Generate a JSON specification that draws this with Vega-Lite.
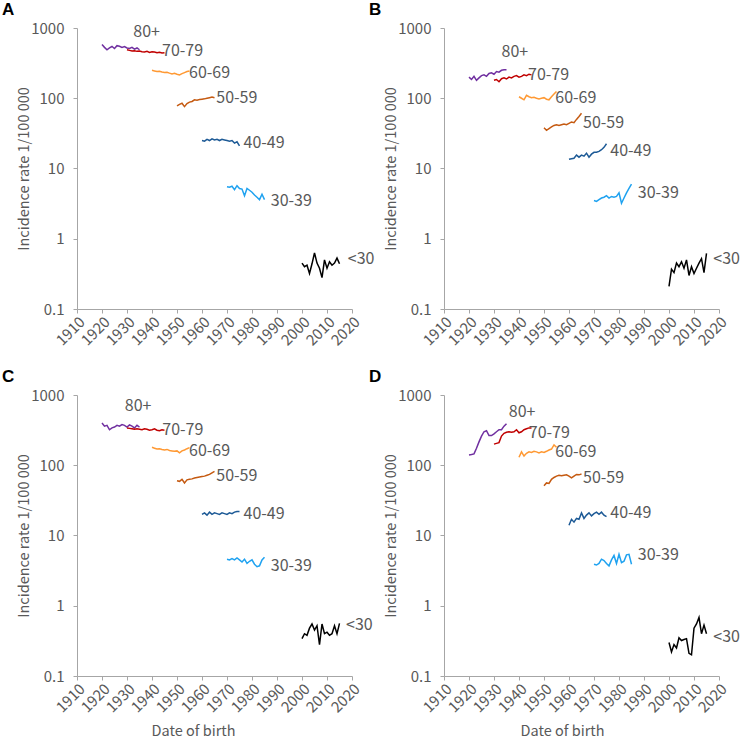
{
"$schema": "https://vega.github.io/schema/vega-lite/v6.json",
"autosize": {"type": "pad"},
"padding": {"left": 2, "top": 1, "right": 0, "bottom": 0},
"background": "white",
"config": {
  "view": {"stroke": null},
  "font": "Noto Sans CJK SC",
  "axis": {"grid": false, "domainColor": "#A6A6A6", "tickColor": "#A6A6A6", "labelColor": "#595959", "titleColor": "#595959", "labelFontSize": 15, "titleFontSize": 14.5, "titleFontWeight": "normal", "tickSize": 4, "labelFont": "Noto Sans CJK SC", "titleFont": "Noto Sans CJK SC"}
},
"columns": 2,
"bounds": "flush",
"spacing": {"row": 86, "column": 92},
"datasets": {
"lines": [
{"panel":"A","group":"80+","year":1920,"rate":580},{"panel":"A","group":"80+","year":1921,"rate":530},{"panel":"A","group":"80+","year":1922,"rate":490},{"panel":"A","group":"80+","year":1923,"rate":520},{"panel":"A","group":"80+","year":1924,"rate":545},{"panel":"A","group":"80+","year":1925,"rate":510},{"panel":"A","group":"80+","year":1926,"rate":560},{"panel":"A","group":"80+","year":1927,"rate":550},{"panel":"A","group":"80+","year":1928,"rate":530},{"panel":"A","group":"80+","year":1929,"rate":545},{"panel":"A","group":"80+","year":1930,"rate":520},{"panel":"A","group":"80+","year":1931,"rate":510},{"panel":"A","group":"80+","year":1932,"rate":530},{"panel":"A","group":"80+","year":1933,"rate":500},{"panel":"A","group":"80+","year":1934,"rate":520},{"panel":"A","group":"80+","year":1935,"rate":490},
{"panel":"A","group":"70-79","year":1930,"rate":490},{"panel":"A","group":"70-79","year":1931,"rate":480},{"panel":"A","group":"70-79","year":1932,"rate":470},{"panel":"A","group":"70-79","year":1933,"rate":475},{"panel":"A","group":"70-79","year":1934,"rate":465},{"panel":"A","group":"70-79","year":1935,"rate":470},{"panel":"A","group":"70-79","year":1936,"rate":460},{"panel":"A","group":"70-79","year":1937,"rate":455},{"panel":"A","group":"70-79","year":1938,"rate":465},{"panel":"A","group":"70-79","year":1939,"rate":450},{"panel":"A","group":"70-79","year":1940,"rate":460},{"panel":"A","group":"70-79","year":1941,"rate":455},{"panel":"A","group":"70-79","year":1942,"rate":445},{"panel":"A","group":"70-79","year":1943,"rate":450},{"panel":"A","group":"70-79","year":1944,"rate":440},{"panel":"A","group":"70-79","year":1945,"rate":445},
{"panel":"A","group":"60-69","year":1940,"rate":250},{"panel":"A","group":"60-69","year":1941,"rate":245},{"panel":"A","group":"60-69","year":1942,"rate":240},{"panel":"A","group":"60-69","year":1943,"rate":242},{"panel":"A","group":"60-69","year":1944,"rate":236},{"panel":"A","group":"60-69","year":1945,"rate":232},{"panel":"A","group":"60-69","year":1946,"rate":235},{"panel":"A","group":"60-69","year":1947,"rate":228},{"panel":"A","group":"60-69","year":1948,"rate":222},{"panel":"A","group":"60-69","year":1949,"rate":226},{"panel":"A","group":"60-69","year":1950,"rate":220},{"panel":"A","group":"60-69","year":1951,"rate":215},{"panel":"A","group":"60-69","year":1952,"rate":224},{"panel":"A","group":"60-69","year":1953,"rate":232},{"panel":"A","group":"60-69","year":1954,"rate":240},{"panel":"A","group":"60-69","year":1955,"rate":245},
{"panel":"A","group":"50-59","year":1950,"rate":78},{"panel":"A","group":"50-59","year":1951,"rate":82},{"panel":"A","group":"50-59","year":1952,"rate":85},{"panel":"A","group":"50-59","year":1953,"rate":76},{"panel":"A","group":"50-59","year":1954,"rate":84},{"panel":"A","group":"50-59","year":1955,"rate":88},{"panel":"A","group":"50-59","year":1956,"rate":90},{"panel":"A","group":"50-59","year":1957,"rate":95},{"panel":"A","group":"50-59","year":1958,"rate":94},{"panel":"A","group":"50-59","year":1959,"rate":96},{"panel":"A","group":"50-59","year":1960,"rate":97},{"panel":"A","group":"50-59","year":1961,"rate":98},{"panel":"A","group":"50-59","year":1962,"rate":100},{"panel":"A","group":"50-59","year":1963,"rate":102},{"panel":"A","group":"50-59","year":1964,"rate":104},{"panel":"A","group":"50-59","year":1965,"rate":102},
{"panel":"A","group":"40-49","year":1960,"rate":25},{"panel":"A","group":"40-49","year":1961,"rate":24.5},{"panel":"A","group":"40-49","year":1962,"rate":26},{"panel":"A","group":"40-49","year":1963,"rate":25},{"panel":"A","group":"40-49","year":1964,"rate":26.5},{"panel":"A","group":"40-49","year":1965,"rate":25.5},{"panel":"A","group":"40-49","year":1966,"rate":26},{"panel":"A","group":"40-49","year":1967,"rate":25},{"panel":"A","group":"40-49","year":1968,"rate":26},{"panel":"A","group":"40-49","year":1969,"rate":25.5},{"panel":"A","group":"40-49","year":1970,"rate":25},{"panel":"A","group":"40-49","year":1971,"rate":24.5},{"panel":"A","group":"40-49","year":1972,"rate":25},{"panel":"A","group":"40-49","year":1973,"rate":23},{"panel":"A","group":"40-49","year":1974,"rate":24},{"panel":"A","group":"40-49","year":1975,"rate":21},
{"panel":"A","group":"30-39","year":1970,"rate":5.5},{"panel":"A","group":"30-39","year":1971,"rate":5.4},{"panel":"A","group":"30-39","year":1972,"rate":5.6},{"panel":"A","group":"30-39","year":1973,"rate":5.0},{"panel":"A","group":"30-39","year":1974,"rate":5.7},{"panel":"A","group":"30-39","year":1975,"rate":5.2},{"panel":"A","group":"30-39","year":1976,"rate":5.1},{"panel":"A","group":"30-39","year":1977,"rate":4.1},{"panel":"A","group":"30-39","year":1978,"rate":5.2},{"panel":"A","group":"30-39","year":1979,"rate":4.9},{"panel":"A","group":"30-39","year":1980,"rate":4.6},{"panel":"A","group":"30-39","year":1981,"rate":4.2},{"panel":"A","group":"30-39","year":1982,"rate":3.9},{"panel":"A","group":"30-39","year":1983,"rate":3.6},{"panel":"A","group":"30-39","year":1984,"rate":4.3},{"panel":"A","group":"30-39","year":1985,"rate":3.6},
{"panel":"A","group":"<30","year":2000,"rate":0.45},{"panel":"A","group":"<30","year":2001,"rate":0.40},{"panel":"A","group":"<30","year":2002,"rate":0.42},{"panel":"A","group":"<30","year":2003,"rate":0.32},{"panel":"A","group":"<30","year":2004,"rate":0.44},{"panel":"A","group":"<30","year":2005,"rate":0.63},{"panel":"A","group":"<30","year":2006,"rate":0.45},{"panel":"A","group":"<30","year":2007,"rate":0.38},{"panel":"A","group":"<30","year":2008,"rate":0.28},{"panel":"A","group":"<30","year":2009,"rate":0.50},{"panel":"A","group":"<30","year":2010,"rate":0.38},{"panel":"A","group":"<30","year":2011,"rate":0.47},{"panel":"A","group":"<30","year":2012,"rate":0.42},{"panel":"A","group":"<30","year":2013,"rate":0.45},{"panel":"A","group":"<30","year":2014,"rate":0.53},{"panel":"A","group":"<30","year":2015,"rate":0.44},
{"panel":"B","group":"80+","year":1920,"rate":200},{"panel":"B","group":"80+","year":1921,"rate":185},{"panel":"B","group":"80+","year":1922,"rate":205},{"panel":"B","group":"80+","year":1923,"rate":180},{"panel":"B","group":"80+","year":1924,"rate":195},{"panel":"B","group":"80+","year":1925,"rate":210},{"panel":"B","group":"80+","year":1926,"rate":215},{"panel":"B","group":"80+","year":1927,"rate":205},{"panel":"B","group":"80+","year":1928,"rate":225},{"panel":"B","group":"80+","year":1929,"rate":230},{"panel":"B","group":"80+","year":1930,"rate":220},{"panel":"B","group":"80+","year":1931,"rate":240},{"panel":"B","group":"80+","year":1932,"rate":235},{"panel":"B","group":"80+","year":1933,"rate":250},{"panel":"B","group":"80+","year":1934,"rate":255},{"panel":"B","group":"80+","year":1935,"rate":255},
{"panel":"B","group":"70-79","year":1930,"rate":180},{"panel":"B","group":"70-79","year":1931,"rate":185},{"panel":"B","group":"70-79","year":1932,"rate":172},{"panel":"B","group":"70-79","year":1933,"rate":190},{"panel":"B","group":"70-79","year":1934,"rate":195},{"panel":"B","group":"70-79","year":1935,"rate":188},{"panel":"B","group":"70-79","year":1936,"rate":200},{"panel":"B","group":"70-79","year":1937,"rate":195},{"panel":"B","group":"70-79","year":1938,"rate":205},{"panel":"B","group":"70-79","year":1939,"rate":210},{"panel":"B","group":"70-79","year":1940,"rate":200},{"panel":"B","group":"70-79","year":1941,"rate":205},{"panel":"B","group":"70-79","year":1942,"rate":215},{"panel":"B","group":"70-79","year":1943,"rate":210},{"panel":"B","group":"70-79","year":1944,"rate":220},{"panel":"B","group":"70-79","year":1945,"rate":215},
{"panel":"B","group":"60-69","year":1940,"rate":105},{"panel":"B","group":"60-69","year":1941,"rate":100},{"panel":"B","group":"60-69","year":1942,"rate":95},{"panel":"B","group":"60-69","year":1943,"rate":110},{"panel":"B","group":"60-69","year":1944,"rate":105},{"panel":"B","group":"60-69","year":1945,"rate":102},{"panel":"B","group":"60-69","year":1946,"rate":103},{"panel":"B","group":"60-69","year":1947,"rate":100},{"panel":"B","group":"60-69","year":1948,"rate":98},{"panel":"B","group":"60-69","year":1949,"rate":100},{"panel":"B","group":"60-69","year":1950,"rate":102},{"panel":"B","group":"60-69","year":1951,"rate":97},{"panel":"B","group":"60-69","year":1952,"rate":95},{"panel":"B","group":"60-69","year":1953,"rate":105},{"panel":"B","group":"60-69","year":1954,"rate":115},{"panel":"B","group":"60-69","year":1955,"rate":125},
{"panel":"B","group":"50-59","year":1950,"rate":38},{"panel":"B","group":"50-59","year":1951,"rate":35},{"panel":"B","group":"50-59","year":1952,"rate":37},{"panel":"B","group":"50-59","year":1953,"rate":39},{"panel":"B","group":"50-59","year":1954,"rate":41},{"panel":"B","group":"50-59","year":1955,"rate":42},{"panel":"B","group":"50-59","year":1956,"rate":41},{"panel":"B","group":"50-59","year":1957,"rate":42},{"panel":"B","group":"50-59","year":1958,"rate":43},{"panel":"B","group":"50-59","year":1959,"rate":42},{"panel":"B","group":"50-59","year":1960,"rate":44},{"panel":"B","group":"50-59","year":1961,"rate":46},{"panel":"B","group":"50-59","year":1962,"rate":45},{"panel":"B","group":"50-59","year":1963,"rate":50},{"panel":"B","group":"50-59","year":1964,"rate":55},{"panel":"B","group":"50-59","year":1965,"rate":61},
{"panel":"B","group":"40-49","year":1960,"rate":13.5},{"panel":"B","group":"40-49","year":1961,"rate":13.8},{"panel":"B","group":"40-49","year":1962,"rate":14},{"panel":"B","group":"40-49","year":1963,"rate":15.5},{"panel":"B","group":"40-49","year":1964,"rate":14.5},{"panel":"B","group":"40-49","year":1965,"rate":15.5},{"panel":"B","group":"40-49","year":1966,"rate":15},{"panel":"B","group":"40-49","year":1967,"rate":16.5},{"panel":"B","group":"40-49","year":1968,"rate":14.5},{"panel":"B","group":"40-49","year":1969,"rate":16},{"panel":"B","group":"40-49","year":1970,"rate":17},{"panel":"B","group":"40-49","year":1971,"rate":17},{"panel":"B","group":"40-49","year":1972,"rate":17.5},{"panel":"B","group":"40-49","year":1973,"rate":18.5},{"panel":"B","group":"40-49","year":1974,"rate":20},{"panel":"B","group":"40-49","year":1975,"rate":22.5},
{"panel":"B","group":"30-39","year":1970,"rate":3.5},{"panel":"B","group":"30-39","year":1971,"rate":3.4},{"panel":"B","group":"30-39","year":1972,"rate":3.6},{"panel":"B","group":"30-39","year":1973,"rate":3.8},{"panel":"B","group":"30-39","year":1974,"rate":3.9},{"panel":"B","group":"30-39","year":1975,"rate":4.1},{"panel":"B","group":"30-39","year":1976,"rate":3.8},{"panel":"B","group":"30-39","year":1977,"rate":4.0},{"panel":"B","group":"30-39","year":1978,"rate":3.9},{"panel":"B","group":"30-39","year":1979,"rate":4.0},{"panel":"B","group":"30-39","year":1980,"rate":4.5},{"panel":"B","group":"30-39","year":1981,"rate":3.2},{"panel":"B","group":"30-39","year":1982,"rate":3.8},{"panel":"B","group":"30-39","year":1983,"rate":4.5},{"panel":"B","group":"30-39","year":1984,"rate":5.2},{"panel":"B","group":"30-39","year":1985,"rate":6.0},
{"panel":"B","group":"<30","year":2000,"rate":0.21},{"panel":"B","group":"<30","year":2001,"rate":0.37},{"panel":"B","group":"<30","year":2002,"rate":0.33},{"panel":"B","group":"<30","year":2003,"rate":0.45},{"panel":"B","group":"<30","year":2004,"rate":0.40},{"panel":"B","group":"<30","year":2005,"rate":0.47},{"panel":"B","group":"<30","year":2006,"rate":0.38},{"panel":"B","group":"<30","year":2007,"rate":0.50},{"panel":"B","group":"<30","year":2008,"rate":0.30},{"panel":"B","group":"<30","year":2009,"rate":0.40},{"panel":"B","group":"<30","year":2010,"rate":0.32},{"panel":"B","group":"<30","year":2011,"rate":0.38},{"panel":"B","group":"<30","year":2012,"rate":0.45},{"panel":"B","group":"<30","year":2013,"rate":0.52},{"panel":"B","group":"<30","year":2014,"rate":0.33},{"panel":"B","group":"<30","year":2015,"rate":0.62},
{"panel":"C","group":"80+","year":1920,"rate":400},{"panel":"C","group":"80+","year":1921,"rate":360},{"panel":"C","group":"80+","year":1922,"rate":370},{"panel":"C","group":"80+","year":1923,"rate":320},{"panel":"C","group":"80+","year":1924,"rate":340},{"panel":"C","group":"80+","year":1925,"rate":350},{"panel":"C","group":"80+","year":1926,"rate":370},{"panel":"C","group":"80+","year":1927,"rate":360},{"panel":"C","group":"80+","year":1928,"rate":380},{"panel":"C","group":"80+","year":1929,"rate":370},{"panel":"C","group":"80+","year":1930,"rate":350},{"panel":"C","group":"80+","year":1931,"rate":375},{"panel":"C","group":"80+","year":1932,"rate":360},{"panel":"C","group":"80+","year":1933,"rate":340},{"panel":"C","group":"80+","year":1934,"rate":370},{"panel":"C","group":"80+","year":1935,"rate":350},
{"panel":"C","group":"70-79","year":1930,"rate":340},{"panel":"C","group":"70-79","year":1931,"rate":335},{"panel":"C","group":"70-79","year":1932,"rate":330},{"panel":"C","group":"70-79","year":1933,"rate":325},{"panel":"C","group":"70-79","year":1934,"rate":330},{"panel":"C","group":"70-79","year":1935,"rate":325},{"panel":"C","group":"70-79","year":1936,"rate":320},{"panel":"C","group":"70-79","year":1937,"rate":330},{"panel":"C","group":"70-79","year":1938,"rate":325},{"panel":"C","group":"70-79","year":1939,"rate":315},{"panel":"C","group":"70-79","year":1940,"rate":320},{"panel":"C","group":"70-79","year":1941,"rate":330},{"panel":"C","group":"70-79","year":1942,"rate":315},{"panel":"C","group":"70-79","year":1943,"rate":310},{"panel":"C","group":"70-79","year":1944,"rate":320},{"panel":"C","group":"70-79","year":1945,"rate":315},
{"panel":"C","group":"60-69","year":1940,"rate":180},{"panel":"C","group":"60-69","year":1941,"rate":175},{"panel":"C","group":"60-69","year":1942,"rate":170},{"panel":"C","group":"60-69","year":1943,"rate":172},{"panel":"C","group":"60-69","year":1944,"rate":168},{"panel":"C","group":"60-69","year":1945,"rate":165},{"panel":"C","group":"60-69","year":1946,"rate":168},{"panel":"C","group":"60-69","year":1947,"rate":162},{"panel":"C","group":"60-69","year":1948,"rate":160},{"panel":"C","group":"60-69","year":1949,"rate":158},{"panel":"C","group":"60-69","year":1950,"rate":160},{"panel":"C","group":"60-69","year":1951,"rate":150},{"panel":"C","group":"60-69","year":1952,"rate":160},{"panel":"C","group":"60-69","year":1953,"rate":165},{"panel":"C","group":"60-69","year":1954,"rate":172},{"panel":"C","group":"60-69","year":1955,"rate":178},
{"panel":"C","group":"50-59","year":1950,"rate":60},{"panel":"C","group":"50-59","year":1951,"rate":59},{"panel":"C","group":"50-59","year":1952,"rate":63},{"panel":"C","group":"50-59","year":1953,"rate":56},{"panel":"C","group":"50-59","year":1954,"rate":62},{"panel":"C","group":"50-59","year":1955,"rate":63},{"panel":"C","group":"50-59","year":1956,"rate":64},{"panel":"C","group":"50-59","year":1957,"rate":66},{"panel":"C","group":"50-59","year":1958,"rate":67},{"panel":"C","group":"50-59","year":1959,"rate":68},{"panel":"C","group":"50-59","year":1960,"rate":69},{"panel":"C","group":"50-59","year":1961,"rate":70},{"panel":"C","group":"50-59","year":1962,"rate":72},{"panel":"C","group":"50-59","year":1963,"rate":74},{"panel":"C","group":"50-59","year":1964,"rate":78},{"panel":"C","group":"50-59","year":1965,"rate":82},
{"panel":"C","group":"40-49","year":1960,"rate":20},{"panel":"C","group":"40-49","year":1961,"rate":21},{"panel":"C","group":"40-49","year":1962,"rate":19.5},{"panel":"C","group":"40-49","year":1963,"rate":21.5},{"panel":"C","group":"40-49","year":1964,"rate":20},{"panel":"C","group":"40-49","year":1965,"rate":21},{"panel":"C","group":"40-49","year":1966,"rate":20.5},{"panel":"C","group":"40-49","year":1967,"rate":20},{"panel":"C","group":"40-49","year":1968,"rate":21},{"panel":"C","group":"40-49","year":1969,"rate":20.5},{"panel":"C","group":"40-49","year":1970,"rate":20},{"panel":"C","group":"40-49","year":1971,"rate":21},{"panel":"C","group":"40-49","year":1972,"rate":20.5},{"panel":"C","group":"40-49","year":1973,"rate":21.5},{"panel":"C","group":"40-49","year":1974,"rate":22},{"panel":"C","group":"40-49","year":1975,"rate":22},
{"panel":"C","group":"30-39","year":1970,"rate":4.6},{"panel":"C","group":"30-39","year":1971,"rate":4.5},{"panel":"C","group":"30-39","year":1972,"rate":4.7},{"panel":"C","group":"30-39","year":1973,"rate":4.5},{"panel":"C","group":"30-39","year":1974,"rate":4.8},{"panel":"C","group":"30-39","year":1975,"rate":4.5},{"panel":"C","group":"30-39","year":1976,"rate":4.2},{"panel":"C","group":"30-39","year":1977,"rate":4.6},{"panel":"C","group":"30-39","year":1978,"rate":4.0},{"panel":"C","group":"30-39","year":1979,"rate":4.3},{"panel":"C","group":"30-39","year":1980,"rate":4.5},{"panel":"C","group":"30-39","year":1981,"rate":3.9},{"panel":"C","group":"30-39","year":1982,"rate":3.6},{"panel":"C","group":"30-39","year":1983,"rate":3.7},{"panel":"C","group":"30-39","year":1984,"rate":4.5},{"panel":"C","group":"30-39","year":1985,"rate":4.9},
{"panel":"C","group":"<30","year":2000,"rate":0.34},{"panel":"C","group":"<30","year":2001,"rate":0.40},{"panel":"C","group":"<30","year":2002,"rate":0.38},{"panel":"C","group":"<30","year":2003,"rate":0.48},{"panel":"C","group":"<30","year":2004,"rate":0.55},{"panel":"C","group":"<30","year":2005,"rate":0.45},{"panel":"C","group":"<30","year":2006,"rate":0.52},{"panel":"C","group":"<30","year":2007,"rate":0.28},{"panel":"C","group":"<30","year":2008,"rate":0.55},{"panel":"C","group":"<30","year":2009,"rate":0.40},{"panel":"C","group":"<30","year":2010,"rate":0.42},{"panel":"C","group":"<30","year":2011,"rate":0.38},{"panel":"C","group":"<30","year":2012,"rate":0.40},{"panel":"C","group":"<30","year":2013,"rate":0.52},{"panel":"C","group":"<30","year":2014,"rate":0.40},{"panel":"C","group":"<30","year":2015,"rate":0.56},
{"panel":"D","group":"80+","year":1920,"rate":140},{"panel":"D","group":"80+","year":1921,"rate":142},{"panel":"D","group":"80+","year":1922,"rate":145},{"panel":"D","group":"80+","year":1923,"rate":175},{"panel":"D","group":"80+","year":1924,"rate":215},{"panel":"D","group":"80+","year":1925,"rate":260},{"panel":"D","group":"80+","year":1926,"rate":300},{"panel":"D","group":"80+","year":1927,"rate":310},{"panel":"D","group":"80+","year":1928,"rate":265},{"panel":"D","group":"80+","year":1929,"rate":265},{"panel":"D","group":"80+","year":1930,"rate":280},{"panel":"D","group":"80+","year":1931,"rate":300},{"panel":"D","group":"80+","year":1932,"rate":320},{"panel":"D","group":"80+","year":1933,"rate":320},{"panel":"D","group":"80+","year":1934,"rate":360},{"panel":"D","group":"80+","year":1935,"rate":390},
{"panel":"D","group":"70-79","year":1930,"rate":200},{"panel":"D","group":"70-79","year":1931,"rate":205},{"panel":"D","group":"70-79","year":1932,"rate":210},{"panel":"D","group":"70-79","year":1933,"rate":260},{"panel":"D","group":"70-79","year":1934,"rate":285},{"panel":"D","group":"70-79","year":1935,"rate":295},{"panel":"D","group":"70-79","year":1936,"rate":300},{"panel":"D","group":"70-79","year":1937,"rate":295},{"panel":"D","group":"70-79","year":1938,"rate":300},{"panel":"D","group":"70-79","year":1939,"rate":320},{"panel":"D","group":"70-79","year":1940,"rate":290},{"panel":"D","group":"70-79","year":1941,"rate":300},{"panel":"D","group":"70-79","year":1942,"rate":320},{"panel":"D","group":"70-79","year":1943,"rate":330},{"panel":"D","group":"70-79","year":1944,"rate":340},{"panel":"D","group":"70-79","year":1945,"rate":340},
{"panel":"D","group":"60-69","year":1940,"rate":130},{"panel":"D","group":"60-69","year":1941,"rate":155},{"panel":"D","group":"60-69","year":1942,"rate":135},{"panel":"D","group":"60-69","year":1943,"rate":148},{"panel":"D","group":"60-69","year":1944,"rate":155},{"panel":"D","group":"60-69","year":1945,"rate":152},{"panel":"D","group":"60-69","year":1946,"rate":158},{"panel":"D","group":"60-69","year":1947,"rate":155},{"panel":"D","group":"60-69","year":1948,"rate":150},{"panel":"D","group":"60-69","year":1949,"rate":155},{"panel":"D","group":"60-69","year":1950,"rate":152},{"panel":"D","group":"60-69","year":1951,"rate":158},{"panel":"D","group":"60-69","year":1952,"rate":165},{"panel":"D","group":"60-69","year":1953,"rate":170},{"panel":"D","group":"60-69","year":1954,"rate":195},{"panel":"D","group":"60-69","year":1955,"rate":180},
{"panel":"D","group":"50-59","year":1950,"rate":51},{"panel":"D","group":"50-59","year":1951,"rate":56},{"panel":"D","group":"50-59","year":1952,"rate":55},{"panel":"D","group":"50-59","year":1953,"rate":63},{"panel":"D","group":"50-59","year":1954,"rate":67},{"panel":"D","group":"50-59","year":1955,"rate":70},{"panel":"D","group":"50-59","year":1956,"rate":72},{"panel":"D","group":"50-59","year":1957,"rate":71},{"panel":"D","group":"50-59","year":1958,"rate":72},{"panel":"D","group":"50-59","year":1959,"rate":73},{"panel":"D","group":"50-59","year":1960,"rate":70},{"panel":"D","group":"50-59","year":1961,"rate":66},{"panel":"D","group":"50-59","year":1962,"rate":70},{"panel":"D","group":"50-59","year":1963,"rate":74},{"panel":"D","group":"50-59","year":1964,"rate":73},{"panel":"D","group":"50-59","year":1965,"rate":75},
{"panel":"D","group":"40-49","year":1960,"rate":14},{"panel":"D","group":"40-49","year":1961,"rate":17},{"panel":"D","group":"40-49","year":1962,"rate":15.5},{"panel":"D","group":"40-49","year":1963,"rate":17.5},{"panel":"D","group":"40-49","year":1964,"rate":17},{"panel":"D","group":"40-49","year":1965,"rate":21},{"panel":"D","group":"40-49","year":1966,"rate":17.5},{"panel":"D","group":"40-49","year":1967,"rate":19.5},{"panel":"D","group":"40-49","year":1968,"rate":21},{"panel":"D","group":"40-49","year":1969,"rate":19},{"panel":"D","group":"40-49","year":1970,"rate":20.5},{"panel":"D","group":"40-49","year":1971,"rate":21.5},{"panel":"D","group":"40-49","year":1972,"rate":20},{"panel":"D","group":"40-49","year":1973,"rate":21.5},{"panel":"D","group":"40-49","year":1974,"rate":19.5},{"panel":"D","group":"40-49","year":1975,"rate":18.5},
{"panel":"D","group":"30-39","year":1970,"rate":3.9},{"panel":"D","group":"30-39","year":1971,"rate":3.8},{"panel":"D","group":"30-39","year":1972,"rate":4.0},{"panel":"D","group":"30-39","year":1973,"rate":4.6},{"panel":"D","group":"30-39","year":1974,"rate":4.4},{"panel":"D","group":"30-39","year":1975,"rate":4.0},{"panel":"D","group":"30-39","year":1976,"rate":3.7},{"panel":"D","group":"30-39","year":1977,"rate":4.5},{"panel":"D","group":"30-39","year":1978,"rate":5.2},{"panel":"D","group":"30-39","year":1979,"rate":4.0},{"panel":"D","group":"30-39","year":1980,"rate":5.4},{"panel":"D","group":"30-39","year":1981,"rate":4.1},{"panel":"D","group":"30-39","year":1982,"rate":4.3},{"panel":"D","group":"30-39","year":1983,"rate":5.3},{"panel":"D","group":"30-39","year":1984,"rate":5.4},{"panel":"D","group":"30-39","year":1985,"rate":3.9},
{"panel":"D","group":"<30","year":2000,"rate":0.30},{"panel":"D","group":"<30","year":2001,"rate":0.22},{"panel":"D","group":"<30","year":2002,"rate":0.28},{"panel":"D","group":"<30","year":2003,"rate":0.25},{"panel":"D","group":"<30","year":2004,"rate":0.35},{"panel":"D","group":"<30","year":2005,"rate":0.32},{"panel":"D","group":"<30","year":2006,"rate":0.33},{"panel":"D","group":"<30","year":2007,"rate":0.34},{"panel":"D","group":"<30","year":2008,"rate":0.21},{"panel":"D","group":"<30","year":2009,"rate":0.20},{"panel":"D","group":"<30","year":2010,"rate":0.48},{"panel":"D","group":"<30","year":2011,"rate":0.55},{"panel":"D","group":"<30","year":2012,"rate":0.68},{"panel":"D","group":"<30","year":2013,"rate":0.40},{"panel":"D","group":"<30","year":2014,"rate":0.53},{"panel":"D","group":"<30","year":2015,"rate":0.40}
],
"labels": [
{"panel":"A","label":"80+","year":1932.5,"rate":877},{"panel":"A","label":"70-79","year":1944,"rate":470},{"panel":"A","label":"60-69","year":1954.8,"rate":232},{"panel":"A","label":"50-59","year":1965.7,"rate":100},{"panel":"A","label":"40-49","year":1976.6,"rate":23},{"panel":"A","label":"30-39","year":1987.5,"rate":3.5},{"panel":"A","label":"<30","year":2018.3,"rate":0.52},
{"panel":"B","label":"80+","year":1933,"rate":455},{"panel":"B","label":"70-79","year":1943.6,"rate":211},{"panel":"B","label":"60-69","year":1954.5,"rate":100},{"panel":"B","label":"50-59","year":1965.6,"rate":44.6},{"panel":"B","label":"40-49","year":1976.5,"rate":18},{"panel":"B","label":"30-39","year":1987.5,"rate":4.5},{"panel":"B","label":"<30","year":2017.7,"rate":0.51},
{"panel":"C","label":"80+","year":1929.1,"rate":690},{"panel":"C","label":"70-79","year":1944.1,"rate":321},{"panel":"C","label":"60-69","year":1954.8,"rate":162},{"panel":"C","label":"50-59","year":1965.7,"rate":71},{"panel":"C","label":"40-49","year":1976.6,"rate":20},{"panel":"C","label":"30-39","year":1987.5,"rate":3.7},{"panel":"C","label":"<30","year":2017.6,"rate":0.53},
{"panel":"D","label":"80+","year":1935.9,"rate":567},{"panel":"D","label":"70-79","year":1943.9,"rate":285},{"panel":"D","label":"60-69","year":1954.5,"rate":153},{"panel":"D","label":"50-59","year":1965.6,"rate":65},{"panel":"D","label":"40-49","year":1976.5,"rate":21},{"panel":"D","label":"30-39","year":1987.5,"rate":5.2},{"panel":"D","label":"<30","year":2017.7,"rate":0.36}
]
},
"concat": [
{"title": {"text": "A", "anchor": "start", "frame": "group", "dx": -75, "fontSize": 17, "fontWeight": "bold", "color": "black", "font": "Liberation Sans", "offset": 2},
 "width": 275, "height": 281,
 "encoding": {
   "x": {"field": "year", "type": "quantitative", "scale": {"domain": [1910, 2020], "nice": false, "zero": false}, "axis": {"title": null, "values": [1910,1920,1930,1940,1950,1960,1970,1980,1990,2000,2010,2020], "format": "d", "labelAngle": -45, "labelAlign": "right", "labelBaseline": "top", "labelOverlap": false, "labelPadding": 1, "labelFlush": false, "labelBound": false}},
   "y": {"field": "rate", "type": "quantitative", "scale": {"type": "log", "domain": [0.1, 1000], "nice": false}, "axis": {"title": "Incidence rate 1/100 000", "values": [0.1, 1, 10, 100, 1000], "format": "~g", "labelPadding": 9, "labelOverlap": false, "titleX": -53, "titleY": 140.5, "titleAlign": "center", "titleBaseline": "middle", "titleAngle": 270}}
 },
 "layer": [
  {"data": {"name": "lines"}, "transform": [{"filter": "datum.panel === 'A'"}], "mark": {"type": "line", "strokeWidth": 1.5},
   "encoding": {"color": {"field": "group", "type": "nominal", "scale": {"domain": ["80+","70-79","60-69","50-59","40-49","30-39","<30"], "range": ["#7030A0","#C00000","#FF9933","#C55A11","#1D5A96","#1FA2F0","#000000"]}, "legend": null}}},
  {"data": {"name": "labels"}, "transform": [{"filter": "datum.panel === 'A'"}], "mark": {"type": "text", "align": "left", "baseline": "middle", "fontSize": 16, "color": "#595959"},
   "encoding": {"text": {"field": "label"}}}
 ]},
{"title": {"text": "B", "anchor": "start", "frame": "group", "dx": -75, "fontSize": 17, "fontWeight": "bold", "color": "black", "font": "Liberation Sans", "offset": 2},
 "width": 275, "height": 281,
 "encoding": {
   "x": {"field": "year", "type": "quantitative", "scale": {"domain": [1910, 2020], "nice": false, "zero": false}, "axis": {"title": null, "values": [1910,1920,1930,1940,1950,1960,1970,1980,1990,2000,2010,2020], "format": "d", "labelAngle": -45, "labelAlign": "right", "labelBaseline": "top", "labelOverlap": false, "labelPadding": 1, "labelFlush": false, "labelBound": false}},
   "y": {"field": "rate", "type": "quantitative", "scale": {"type": "log", "domain": [0.1, 1000], "nice": false}, "axis": {"title": "Incidence rate 1/100 000", "values": [0.1, 1, 10, 100, 1000], "format": "~g", "labelPadding": 9, "labelOverlap": false, "titleX": -53, "titleY": 140.5, "titleAlign": "center", "titleBaseline": "middle", "titleAngle": 270}}
 },
 "layer": [
  {"data": {"name": "lines"}, "transform": [{"filter": "datum.panel === 'B'"}], "mark": {"type": "line", "strokeWidth": 1.5},
   "encoding": {"color": {"field": "group", "type": "nominal", "scale": {"domain": ["80+","70-79","60-69","50-59","40-49","30-39","<30"], "range": ["#7030A0","#C00000","#FF9933","#C55A11","#1D5A96","#1FA2F0","#000000"]}, "legend": null}}},
  {"data": {"name": "labels"}, "transform": [{"filter": "datum.panel === 'B'"}], "mark": {"type": "text", "align": "left", "baseline": "middle", "fontSize": 16, "color": "#595959"},
   "encoding": {"text": {"field": "label"}}}
 ]},
{"title": {"text": "C", "anchor": "start", "frame": "group", "dx": -75, "fontSize": 17, "fontWeight": "bold", "color": "black", "font": "Liberation Sans", "offset": 2},
 "width": 275, "height": 281,
 "encoding": {
   "x": {"field": "year", "type": "quantitative", "scale": {"domain": [1910, 2020], "nice": false, "zero": false}, "axis": {"title": "Date of birth", "values": [1910,1920,1930,1940,1950,1960,1970,1980,1990,2000,2010,2020], "format": "d", "labelAngle": -45, "labelAlign": "right", "labelBaseline": "top", "labelOverlap": false, "labelPadding": 1, "labelFlush": false, "labelBound": false, "titleX": 116, "titleY": 55, "titleBaseline": "middle", "titleAlign": "center"}},
   "y": {"field": "rate", "type": "quantitative", "scale": {"type": "log", "domain": [0.1, 1000], "nice": false}, "axis": {"title": "Incidence rate 1/100 000", "values": [0.1, 1, 10, 100, 1000], "format": "~g", "labelPadding": 9, "labelOverlap": false, "titleX": -53, "titleY": 140.5, "titleAlign": "center", "titleBaseline": "middle", "titleAngle": 270}}
 },
 "layer": [
  {"data": {"name": "lines"}, "transform": [{"filter": "datum.panel === 'C'"}], "mark": {"type": "line", "strokeWidth": 1.5},
   "encoding": {"color": {"field": "group", "type": "nominal", "scale": {"domain": ["80+","70-79","60-69","50-59","40-49","30-39","<30"], "range": ["#7030A0","#C00000","#FF9933","#C55A11","#1D5A96","#1FA2F0","#000000"]}, "legend": null}}},
  {"data": {"name": "labels"}, "transform": [{"filter": "datum.panel === 'C'"}], "mark": {"type": "text", "align": "left", "baseline": "middle", "fontSize": 16, "color": "#595959"},
   "encoding": {"text": {"field": "label"}}}
 ]},
{"title": {"text": "D", "anchor": "start", "frame": "group", "dx": -75, "fontSize": 17, "fontWeight": "bold", "color": "black", "font": "Liberation Sans", "offset": 2},
 "width": 275, "height": 281,
 "encoding": {
   "x": {"field": "year", "type": "quantitative", "scale": {"domain": [1910, 2020], "nice": false, "zero": false}, "axis": {"title": "Date of birth", "values": [1910,1920,1930,1940,1950,1960,1970,1980,1990,2000,2010,2020], "format": "d", "labelAngle": -45, "labelAlign": "right", "labelBaseline": "top", "labelOverlap": false, "labelPadding": 1, "labelFlush": false, "labelBound": false, "titleX": 118, "titleY": 55, "titleBaseline": "middle", "titleAlign": "center"}},
   "y": {"field": "rate", "type": "quantitative", "scale": {"type": "log", "domain": [0.1, 1000], "nice": false}, "axis": {"title": "Incidence rate 1/100 000", "values": [0.1, 1, 10, 100, 1000], "format": "~g", "labelPadding": 9, "labelOverlap": false, "titleX": -53, "titleY": 140.5, "titleAlign": "center", "titleBaseline": "middle", "titleAngle": 270}}
 },
 "layer": [
  {"data": {"name": "lines"}, "transform": [{"filter": "datum.panel === 'D'"}], "mark": {"type": "line", "strokeWidth": 1.5},
   "encoding": {"color": {"field": "group", "type": "nominal", "scale": {"domain": ["80+","70-79","60-69","50-59","40-49","30-39","<30"], "range": ["#7030A0","#C00000","#FF9933","#C55A11","#1D5A96","#1FA2F0","#000000"]}, "legend": null}}},
  {"data": {"name": "labels"}, "transform": [{"filter": "datum.panel === 'D'"}], "mark": {"type": "text", "align": "left", "baseline": "middle", "fontSize": 16, "color": "#595959"},
   "encoding": {"text": {"field": "label"}}}
 ]}
]
}
